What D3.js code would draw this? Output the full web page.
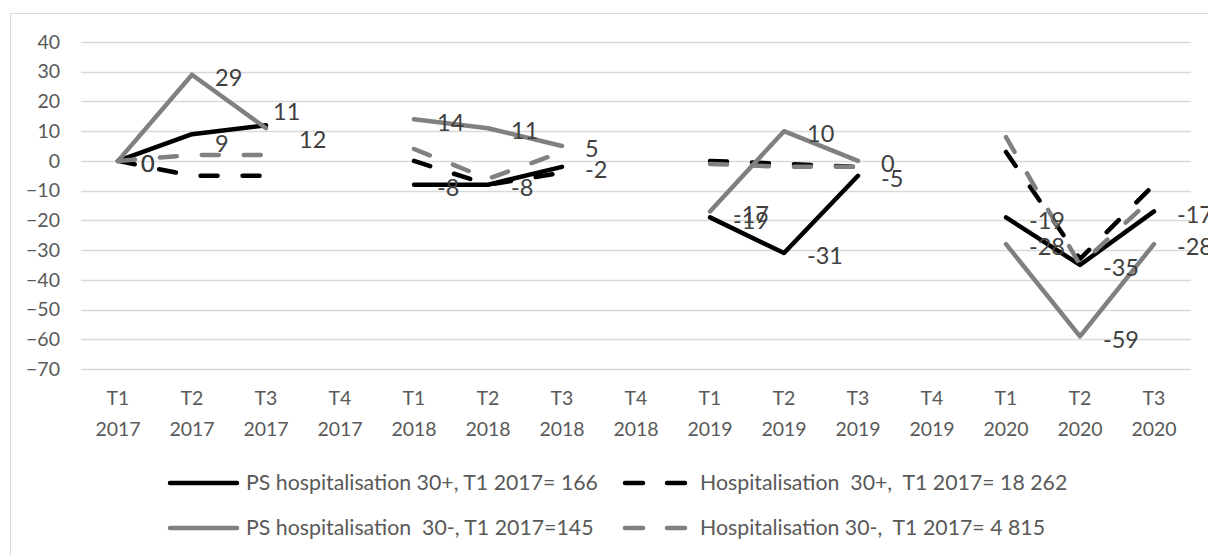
<!DOCTYPE html>
<html>
<head>
<meta charset="utf-8">
<script src="https://cdn.jsdelivr.net/npm/d3@7"></script>
<style>
  body { margin: 0; background: #fff; }
  text { font-family: Lato, "Open Sans", sans-serif; white-space: pre; }
</style>
</head>
<body>
<div id="chart"></div>
<script>
// categories (quarter, year)
const quarters = ["T1","T2","T3","T4","T1","T2","T3","T4","T1","T2","T3","T4","T1","T2","T3"];
const years = ["2017","2017","2017","2017","2018","2018","2018","2018","2019","2019","2019","2019","2020","2020","2020"];

// series values (% change vs T1 2017), null = no data
const psPlus    = [0, 9, 12, null, -8, -8, -2, null, -19, -31, -5, null, -19, -35, -17];
const hospPlus  = [0, -5, -5, null, 0, -8, -4, null, 0, -1, -2, null, 3, -33, -8];
const psMinus   = [0, 29, 11, null, 14, 11, 5, null, -17, 10, 0, null, -28, -59, -28];
const hospMinus = [0, 2, 2, null, 4, -6, 3, null, -1, -2, -2, null, 8, -35, -12];

const yTicks = [40, 30, 20, 10, 0, -10, -20, -30, -40, -50, -60, -70];

const series = [
  {key: "psPlus", name: "PS hospitalisation 30+, T1 2017= 166", values: psPlus, color: "#000", dash: null, labels: true},
  {key: "hospPlus", name: "Hospitalisation  30+,  T1 2017= 18 262", values: hospPlus, color: "#000", dash: "17,25", labels: false},
  {key: "psMinus", name: "PS hospitalisation  30-, T1 2017=145", values: psMinus, color: "#808080", dash: null, labels: true},
  {key: "hospMinus", name: "Hospitalisation 30-,  T1 2017= 4 815", values: hospMinus, color: "#808080", dash: "17,25", labels: false}
];

// manual label moves (like dragged labels in the original)
const nudge = {"psPlus-1": [0, 7], "psPlus-2": [10, 12], "psMinus-2": [-16, -19]};

const W = 1208, H = 555;
const svg = d3.select("#chart").append("svg")
    .attr("width", W).attr("height", H);

// chart border
svg.append("rect")
    .attr("x", 10.5).attr("y", 13.5)
    .attr("width", 1300).attr("height", 700)
    .attr("fill", "none").attr("stroke", "#d9d9d9");

const x = d3.scaleBand()
    .domain(d3.range(quarters.length))
    .range([81, 1191]);

const y = d3.scaleLinear()
    .domain([-70, 40])
    .range([369, 42]);

// gridlines
svg.append("g")
    .selectAll("line")
    .data(yTicks)
    .enter()
    .append("line")
    .attr("x1", 81).attr("x2", 1191)
    .attr("y1", d => Math.round(y(d)) + 0.5)
    .attr("y2", d => Math.round(y(d)) + 0.5)
    .attr("stroke", "#d9d9d9")
    .attr("stroke-width", 1.3);

// y axis
const yAxis = svg.append("g")
    .attr("transform", "translate(60,0)")
    .call(d3.axisLeft(y).tickValues(yTicks).tickSize(0).tickPadding(0));
yAxis.select(".domain").remove();
yAxis.selectAll("text")
    .style("font-family", "Lato, sans-serif")
    .style("font-size", "19.5px")
    .attr("fill", "#595959");

// x axis, two line labels
const xAxis = svg.append("g")
    .attr("transform", "translate(0,369)")
    .call(d3.axisBottom(x).tickSize(0).tickFormat(""));
xAxis.select(".domain").remove();
xAxis.selectAll(".tick").each(function(i) {
  const t = d3.select(this).append("text")
      .attr("text-anchor", "middle")
      .attr("fill", "#595959")
      .style("font-size", "19.5px");
  t.append("tspan").attr("x", 0).attr("y", 36).text(quarters[i]);
  t.append("tspan").attr("x", 0).attr("y", 67).text(years[i]);
});

const cx = i => x(i) + x.bandwidth() / 2;

const line = d3.line()
    .defined(d => d != null)
    .x((d, i) => cx(i))
    .y(d => y(d));

svg.append("g")
    .selectAll("path")
    .data(series)
    .enter()
    .append("path")
    .attr("d", s => line(s.values))
    .attr("fill", "none")
    .attr("stroke", s => s.color)
    .attr("stroke-width", 4.5)
    .attr("stroke-linecap", "round")
    .attr("stroke-linejoin", "round")
    .attr("stroke-dasharray", s => s.dash);

// data labels
series.filter(s => s.labels).forEach(s => {
  svg.append("g")
      .selectAll("text")
      .data(s.values.map((v, i) => ({v: v, i: i})).filter(d => d.v != null))
      .enter()
      .append("text")
      .attr("x", d => cx(d.i) + 23 + (nudge[s.key + "-" + d.i] || [0, 0])[0])
      .attr("y", d => y(d.v) + 3 + (nudge[s.key + "-" + d.i] || [0, 0])[1])
      .attr("dy", "0.35em")
      .attr("fill", "#404040")
      .style("font-size", "23.5px")
      .text(d => d.v);
});

// legend
const legendPos = [[168, 483], [623, 483], [168, 528], [623, 528]];
const legend = svg.append("g")
    .selectAll("g")
    .data(series)
    .enter()
    .append("g")
    .attr("transform", (s, i) => "translate(" + legendPos[i][0] + "," + legendPos[i][1] + ")");

legend.append("line")
    .attr("x1", 2)
    .attr("x2", s => s.dash ? 62 : 69)
    .attr("stroke", s => s.color)
    .attr("stroke-width", 4.5)
    .attr("stroke-linecap", "round")
    .attr("stroke-dasharray", s => s.dash ? "18,24" : null);

legend.append("text")
    .attr("x", s => s.dash ? 77 : 78)
    .attr("dy", "0.35em")
    .attr("fill", "#595959")
    .style("font-size", "21.3px")
    .text(s => s.name);
</script>
</body>
</html>
